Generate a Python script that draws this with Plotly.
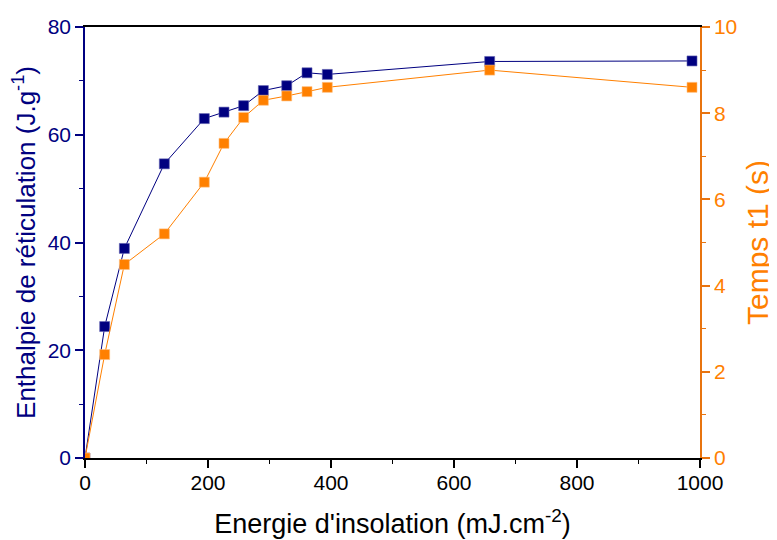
import plotly.graph_objects as go

energie = [0, 32, 64, 129, 194, 226, 258, 290, 328, 361, 394, 658, 987]
enthalpie = [0, 24.4, 38.9, 54.6, 63.0, 64.2, 65.4, 68.2, 69.1, 71.5, 71.2, 73.6, 73.7]
temps_t1 = [0, 2.4, 4.49, 5.2, 6.4, 7.3, 7.9, 8.3, 8.4, 8.5, 8.6, 9.0, 8.6]

x_ticks = [0, 200, 400, 600, 800, 1000]
y1_ticks = [0, 20, 40, 60, 80]
y2_ticks = [0, 2, 4, 6, 8, 10]

NAVY = "#000080"
ORANGE = "#FF8000"
ORANGE_AXIS = "#E8740F"
FONT = "Liberation Sans, Arial, sans-serif"

fig = go.Figure()
fig.add_trace(go.Scatter(
    x=energie, y=enthalpie, mode="lines+markers",
    line=dict(color=NAVY, width=1),
    marker=dict(symbol="square", size=10, color=NAVY, line=dict(width=0.6, color="#6060b0")),
    yaxis="y", showlegend=False))
fig.add_trace(go.Scatter(
    x=energie, y=temps_t1, mode="lines+markers",
    line=dict(color=ORANGE, width=1),
    marker=dict(symbol="square", size=10, color=ORANGE, line=dict(width=0.6, color="#ffc080")),
    yaxis="y2", showlegend=False))

# the page body adds an 8px offset, so the figure is sized to fit the window
fig.update_layout(
    width=769, height=532,
    margin=dict(l=77, r=77, t=19, b=82),
    paper_bgcolor="white", plot_bgcolor="white",
    font=dict(family=FONT, size=21, color="black"),
    xaxis=dict(
        range=[0, 1000], tickvals=x_ticks, ticktext=[str(v) for v in x_ticks],
        showgrid=False, zeroline=False, automargin=False,
        showline=True, linecolor="black", linewidth=1.5, mirror=True,
        ticks="outside", ticklen=8, tickwidth=1.5, tickcolor="black",
        ticklabelstandoff=-3,
        minor=dict(dtick=100, ticks="outside", ticklen=4, tickwidth=1.2, tickcolor="black"),
        tickfont=dict(family=FONT, size=21, color="black"),
        title=dict(text="Energie d'insolation (mJ.cm<sup>-2</sup>)", font=dict(family=FONT, size=27, color="black"), standoff=21),
    ),
    yaxis=dict(
        range=[0, 80], tickvals=y1_ticks, ticktext=[str(v) for v in y1_ticks],
        showgrid=False, zeroline=False, automargin=False,
        showline=True, linecolor=NAVY, linewidth=1.5,
        ticks="outside", ticklen=8, tickwidth=1.5, tickcolor=NAVY,
        minor=dict(dtick=10, ticks="outside", ticklen=4, tickwidth=1.2, tickcolor=NAVY),
        tickfont=dict(family=FONT, size=21, color=NAVY),
        title=dict(text="Enthalpie de réticulation (J.g<sup>-1</sup>)", font=dict(family=FONT, size=26, color=NAVY), standoff=5),
    ),
    yaxis2=dict(
        range=[0, 10], tickvals=y2_ticks, ticktext=[str(v) for v in y2_ticks],
        overlaying="y", side="right", anchor="x",
        showgrid=False, zeroline=False, automargin=False,
        showline=True, linecolor=ORANGE_AXIS, linewidth=1.5,
        ticks="outside", ticklen=8, tickwidth=1.5, tickcolor=ORANGE_AXIS,
        minor=dict(dtick=1, ticks="outside", ticklen=4, tickwidth=1.2, tickcolor=ORANGE_AXIS),
        tickfont=dict(family=FONT, size=21, color=ORANGE),
        title=dict(text="Temps t1 (s)", font=dict(family=FONT, size=30, color=ORANGE), standoff=11),
    ),
)

fig.write_html("out.html")
